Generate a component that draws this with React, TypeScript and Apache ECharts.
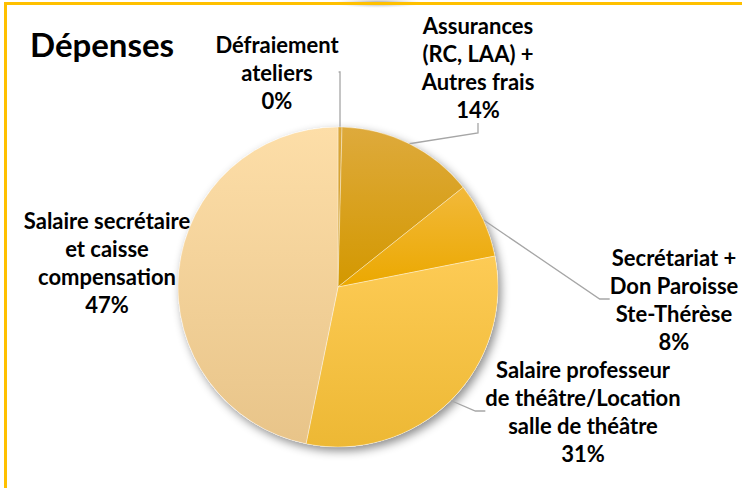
import React, { useEffect, useRef } from "react";
import * as echarts from "echarts";

const categories = [
  "Défraiement\nateliers",
  "Assurances\n(RC, LAA) +\nAutres frais",
  "Secrétariat +\nDon Paroisse\nSte-Thérèse",
  "Salaire professeur\nde théâtre/Location\nsalle de théâtre",
  "Salaire secrétaire\net caisse\ncompensation",
];
const values = [0.4, 13.9, 7.6, 31.3, 46.8];
const topColors = ["#DBA73A", "#DEAA3C", "#F2B93A", "#FDCB55", "#FDDEA8"];
const bottomColors = ["#D09A20", "#D39800", "#EBA800", "#EDB834", "#E8C489"];
const labelCenters: [number, number][] = [
  [277, 72],
  [478, 67],
  [674, 299],
  [583, 411],
  [107, 262],
];

export default function App() {
  const ref = useRef<HTMLDivElement>(null);
  useEffect(() => {
    if (!ref.current) return;
    const chart = echarts.init(ref.current, undefined, { renderer: "svg" });
    const font = "Lato, 'Open Sans', sans-serif";
    chart.setOption({
      animation: false,
      backgroundColor: "#ffffff",
      graphic: [
        {
          type: "ellipse",
          shape: { cx: 378, cy: 3, rx: 45, ry: 5 },
          style: {
            fill: new echarts.graphic.RadialGradient(0.5, 0.5, 0.5, [
              { offset: 0, color: "rgba(120,120,120,0.8)" },
              { offset: 1, color: "rgba(200,200,200,0)" },
            ]),
          },
          z: 5,
        },
        {
          type: "line",
          shape: { x1: 5, y1: 3.5, x2: 742, y2: 3.5 },
          style: { stroke: "#FFC000", lineWidth: 3 },
          z: 6,
        },
        {
          type: "line",
          shape: { x1: 5.5, y1: 2, x2: 5.5, y2: 488 },
          style: { stroke: "#FFC000", lineWidth: 3 },
          z: 6,
        },
        {
          type: "text",
          left: 30,
          top: 27,
          style: {
            text: "Dépenses",
            font: `bold 33px ${font}`,
            fill: "#000000",
          },
          z: 6,
        },
      ],
      series: [
        {
          type: "pie",
          silent: true,
          center: [338, 287],
          radius: 160,
          startAngle: 90,
          z: 1,
          label: { show: false },
          labelLine: { show: false },
          itemStyle: {
            color: "#ffffff",
            shadowBlur: 10,
            shadowOffsetX: 3,
            shadowOffsetY: 4,
            shadowColor: "rgba(0,0,0,0.45)",
          },
          data: [{ value: 1, name: "shadow" }],
        },
        {
          type: "pie",
          center: [338, 287],
          radius: 160,
          startAngle: 90,
          clockwise: true,
          z: 2,
          percentPrecision: 0,
          avoidLabelOverlap: false,
          label: {
            show: true,
            formatter: "{b}\n{d}%",
            fontFamily: font,
            fontWeight: "bold",
            fontSize: 22,
            lineHeight: 28,
            color: "#000000",
            align: "center",
          },
          labelLine: {
            show: true,
            length: 15,
            length2: 10,
            lineStyle: { color: "#A6A6A6", width: 1.3 },
          },
          labelLayout: (params: any) => {
            const c = labelCenters[params.dataIndex];
            return { x: c[0], y: c[1], align: "center", verticalAlign: "middle" };
          },
          itemStyle: {
            borderColor: "rgba(255,255,255,0.45)",
            borderWidth: 0.8,
          },
          data: categories.map((name, i) => ({
            name,
            value: values[i],
            labelLine: i === 4 ? { show: false } : undefined,
            itemStyle: {
              color: new echarts.graphic.LinearGradient(0, 0, 0, 1, [
                { offset: 0, color: topColors[i] },
                { offset: 1, color: bottomColors[i] },
              ]),
            },
          })),
        },
      ],
    });
    return () => chart.dispose();
  }, []);
  return (
    <div
      ref={ref}
      style={{ position: "fixed", left: 0, top: 0, width: 742, height: 488 }}
    />
  );
}
